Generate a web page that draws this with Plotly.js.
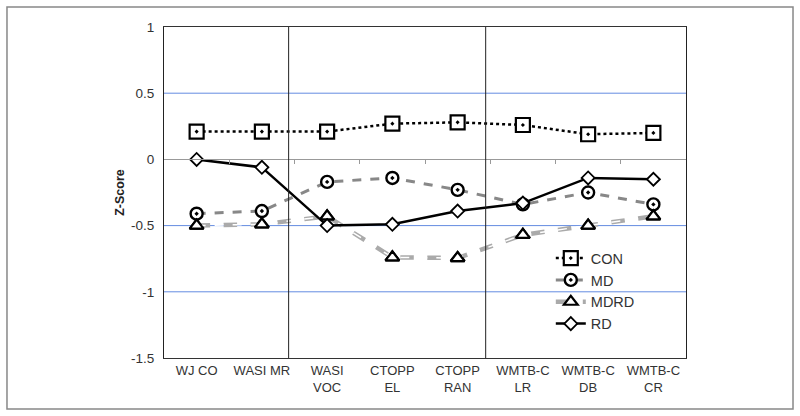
<!DOCTYPE html>
<html><head><meta charset="utf-8">
<script src="https://cdn.plot.ly/plotly-3.0.1.min.js"></script>
<style>html,body{margin:0;padding:0;background:#fff}#chart{width:800px;height:416px}</style>
</head><body><div id="chart"></div>
<script>
const categories = ["WJ CO","WASI MR","WASI<br>VOC","CTOPP<br>EL","CTOPP<br>RAN","WMTB-C<br>LR","WMTB-C<br>DB","WMTB-C<br>CR"];
const conValues  = [0.21, 0.21, 0.21, 0.27, 0.28, 0.26, 0.19, 0.20];
const mdValues   = [-0.41, -0.39, -0.17, -0.14, -0.23, -0.34, -0.25, -0.34];
const mdrdValues = [-0.50, -0.49, -0.43, -0.74, -0.745, -0.57, -0.50, -0.43];
const rdValues   = [0.00, -0.06, -0.50, -0.49, -0.39, -0.33, -0.14, -0.15];
const dividers = [1.41, 4.43];
const boundaryTicks = [0.5,1.5,2.5,3.5,4.5,5.5,6.5];
const yTicks = [1, 0.5, 0, -0.5, -1, -1.5];
const gridValues = [0.5, -0.5, -1];

const xs = categories.map((_, i) => i);
const font = "'Liberation Sans', Arial, sans-serif";

const traces = [
  {x: xs, y: conValues, name: "CON", mode: "lines+markers",
   line: {color: "#000", width: 2.5, dash: "dot"},
   marker: {symbol: "square-dot", size: 14, color: "#fff", line: {color: "#000", width: 2.2}}},
  {x: xs, y: mdValues, name: "MD", mode: "lines+markers",
   line: {color: "#888", width: 3, dash: "dash"},
   marker: {symbol: "circle-dot", size: 12, color: "#fff", line: {color: "#000", width: 2.4}}},
  {x: xs, y: mdrdValues, name: "MDRD", mode: "lines+markers",
   line: {color: "#aaa", width: 4.5, dash: "dash"},
   marker: {symbol: "triangle-up", size: 12, color: "#fff", line: {color: "#000", width: 2.2}}},
  {x: xs, y: mdrdValues, name: "MDRD", mode: "lines", showlegend: false,
   line: {color: "#fff", width: 1.5, dash: "dash"}},
  {x: xs, y: mdrdValues, name: "MDRD", mode: "markers", showlegend: false,
   marker: {symbol: "triangle-up", size: 12, color: "#fff", line: {color: "#000", width: 2.2}}},
  {x: xs, y: rdValues, name: "RD", mode: "lines+markers",
   line: {color: "#000", width: 2.5},
   marker: {symbol: "diamond", size: 10, color: "#fff", line: {color: "#000", width: 1.8}}}
];

const shapes = gridValues.map(v => ({type: "line", xref: "paper", yref: "y", x0: 0, x1: 1, y0: v, y1: v,
  line: {color: "rgb(100,140,225)", width: 1}, layer: "below"}));
dividers.forEach(d => shapes.push({type: "line", xref: "x", yref: "paper", x0: d, x1: d, y0: 0, y1: 1,
  line: {color: "#222", width: 1}}));
shapes.push({type: "rect", xref: "paper", yref: "paper", x0: -0.3008, x1: 1.205, y0: -0.154, y1: 1.0604,
  line: {color: "#888", width: 1.5}, layer: "below"});

const layout = {
  width: 800, height: 416,
  margin: {l: 164, r: 114, t: 27, b: 58},
  paper_bgcolor: "#fff", plot_bgcolor: "#fff",
  font: {family: font, color: "#333", size: 12},
  showlegend: true,
  legend: {x: 0.741, y: 0.35, xanchor: "left", yanchor: "top", bgcolor: "rgba(0,0,0,0)",
    font: {family: font, size: 14.5, color: "#333"}, tracegroupgap: 0},
  xaxis: {range: [-0.5, 7.5], tickmode: "array", tickvals: xs, ticktext: categories,
    showgrid: false, zeroline: false, showline: true, linecolor: "#333", linewidth: 1, mirror: true,
    ticks: "", tickfont: {family: font, size: 13, color: "#333"}},
  xaxis2: {range: [-0.5, 7.5], overlaying: "x", anchor: "free", position: 0.6003, side: "bottom",
    tickmode: "array", tickvals: boundaryTicks, showticklabels: false, ticks: "outside", ticklen: 4,
    tickcolor: "#999", showline: true, linecolor: "#999", linewidth: 1, showgrid: false, zeroline: false},
  yaxis: {range: [-1.5, 1], tickmode: "array", tickvals: yTicks, ticktext: yTicks.map(String),
    showgrid: false, zeroline: false,
    showline: true, linecolor: "#222", linewidth: 1, mirror: true, ticks: "",
    ticklabelstandoff: 6,
    tickfont: {family: font, size: 13.5, color: "#333"},
    title: {text: "Z-Score", font: {family: font, size: 12.5, color: "#222", weight: "bold"}, standoff: 3}},
  shapes: shapes
};

Plotly.newPlot("chart", traces.concat([{x: [0], y: [0], xaxis: "x2", mode: "markers", marker: {opacity: 0}, showlegend: false, hoverinfo: "skip"}]), layout, {staticPlot: true});
</script></body></html>
